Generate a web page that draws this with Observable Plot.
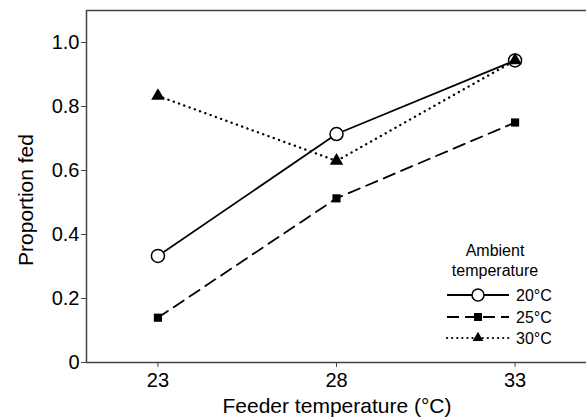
<!DOCTYPE html>
<html><head><meta charset="utf-8">
<script src="https://cdn.jsdelivr.net/npm/d3@7"></script>
<script src="https://cdn.jsdelivr.net/npm/@observablehq/plot@0.6"></script>
<style>body{margin:0;background:#fff;font-family:"Liberation Sans",Arial,sans-serif}</style>
</head><body><div id="chart"></div>
<script>
const feederTemps = [23, 28, 33];
const series = ["20°C", "25°C", "30°C"];
const values20 = [0.333, 0.714, 0.944];
const values25 = [0.14, 0.513, 0.75];
const values30 = [0.833, 0.63, 0.944];
const yTicks = [0, 0.2, 0.4, 0.6, 0.8, 1.0];

const allVals = [values20, values25, values30];
const data = series.flatMap((s, i) => feederTemps.map((t, j) => ({series: s, x: t, y: allVals[i][j]})));
const d20 = data.filter(d => d.series === "20°C");
const d25 = data.filter(d => d.series === "25°C");
const d30 = data.filter(d => d.series === "30°C");

const axisColor = "#444";
const fmt = d => d === 0 ? "0" : d.toFixed(1);
const plot = Plot.plot({
  width: 586, height: 418,
  marginLeft: 86, marginRight: 0, marginTop: 10, marginBottom: 56,
  style: {fontFamily: "Liberation Sans, Arial, sans-serif", fontSize: "20px", color: "#000", background: "#fff"},
  x: {domain: [21, 35], label: null},
  y: {domain: [0, 1.1], label: null},
  marks: [
    Plot.ruleX([21], {stroke: axisColor, strokeWidth: 1.5}),
    Plot.ruleY([0], {stroke: axisColor, strokeWidth: 1.5}),
    Plot.ruleY([1.1], {stroke: axisColor, strokeWidth: 1.5}),
    Plot.axisX({ticks: feederTemps, tickSize: 5, tickPadding: 5, fontSize: 20, stroke: axisColor, label: null}),
    Plot.axisY({ticks: yTicks, tickSize: 5, tickPadding: 2, fontSize: 20, stroke: axisColor, label: null, tickFormat: fmt}),
    Plot.line(d20, {x: "x", y: "y", stroke: "#000", strokeWidth: 1.8}),
    Plot.line(d25, {x: "x", y: "y", stroke: "#000", strokeWidth: 1.8, strokeDasharray: "12,7"}),
    Plot.line(d30, {x: "x", y: "y", stroke: "#000", strokeWidth: 2.4, strokeDasharray: "0.1,5.5", strokeLinecap: "round"}),
    Plot.dot(d20, {x: "x", y: "y", r: 6.5, fill: "#fff", stroke: "#000", strokeWidth: 1.5}),
    Plot.dot(d25, {x: "x", y: "y", symbol: "square", r: 4.6, fill: "#000", stroke: "none"}),
    Plot.dot(d30, {x: "x", y: "y", symbol: "triangle", r: 5, fill: "#000", stroke: "none"})
  ]
});
document.getElementById("chart").appendChild(plot);

const svg = d3.select(plot);
svg.append("text").attr("x", 337).attr("y", 413).attr("text-anchor", "middle")
  .attr("font-size", 21).attr("fill", "#000").text("Feeder temperature (°C)");
svg.append("text").attr("transform", "translate(33,200) rotate(-90)").attr("text-anchor", "middle")
  .attr("font-size", 21).attr("fill", "#000").text("Proportion fed");

// Legend
const lg = svg.append("g").attr("font-size", 16).attr("fill", "#000");
lg.append("text").attr("x", 495).attr("y", 256).attr("text-anchor", "middle").text("Ambient");
lg.append("text").attr("x", 495).attr("y", 276).attr("text-anchor", "middle").text("temperature");
const rows = [
  {label: series[0], y: 295, dash: null, sym: "circle", w: 1.8},
  {label: series[1], y: 317, dash: "12,6", sym: "square", w: 1.8},
  {label: series[2], y: 338, dash: "0.1,5", sym: "triangle", w: 2.2}
];
rows.forEach(r => {
  const ln = lg.append("line").attr("x1", 447).attr("x2", 509).attr("y1", r.y).attr("y2", r.y)
    .attr("stroke", "#000").attr("stroke-width", r.w);
  if (r.dash) ln.attr("stroke-dasharray", r.dash);
  if (r.sym === "triangle") ln.attr("stroke-linecap", "round");
  if (r.sym === "circle") lg.append("circle").attr("cx", 478).attr("cy", r.y).attr("r", 6).attr("fill", "#fff").attr("stroke", "#000").attr("stroke-width", 1.5);
  if (r.sym === "square") lg.append("rect").attr("x", 474).attr("y", r.y - 4).attr("width", 8).attr("height", 8).attr("fill", "#000");
  if (r.sym === "triangle") lg.append("path").attr("d", d3.symbol(d3.symbolTriangle, 50)()).attr("transform", `translate(478,${r.y})`).attr("fill", "#000");
  lg.append("text").attr("x", 516).attr("y", r.y + 6).attr("text-anchor", "start").text(r.label);
});
</script></body></html>
